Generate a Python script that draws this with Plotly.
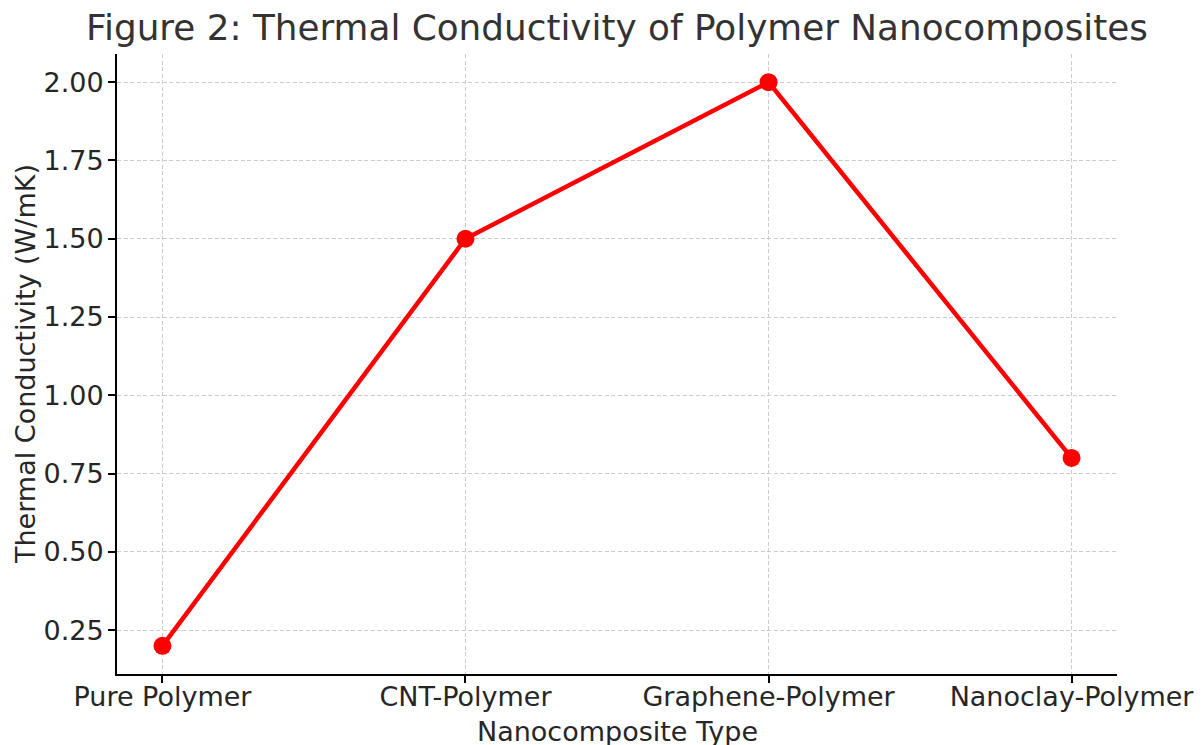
import plotly.graph_objects as go

categories = ["Pure Polymer", "CNT-Polymer", "Graphene-Polymer", "Nanoclay-Polymer"]
conductivity = [0.2, 1.5, 2.0, 0.8]
y_ticks = [0.25, 0.50, 0.75, 1.00, 1.25, 1.50, 1.75, 2.00]
y_tick_labels = ["0.25", "0.50", "0.75", "1.00", "1.25", "1.50", "1.75", "2.00"]
x_title = "Nanocomposite Type"
y_title = "Thermal Conductivity (W/mK)"
chart_title = "Figure 2: Thermal Conductivity of Polymer Nanocomposites"

x_pos = list(range(len(categories)))

FONT = "DejaVu Sans"
TXT = "#262626"
# the page body adds an 8px margin, so the figure is 8px smaller
W, H = 1194, 737
ML, MR, MT, MB = 109, 85, 46, 71
PW, PH = W - ML - MR, H - MT - MB

fig = go.Figure()
fig.add_trace(go.Scatter(
    x=x_pos, y=conductivity,
    mode="lines+markers",
    line=dict(color="#ff0000", width=4.5),
    marker=dict(color="#ff0000", size=18, line=dict(width=0)),
    showlegend=False,
    cliponaxis=False,
))

fig.update_layout(
    width=W, height=H,
    paper_bgcolor="white", plot_bgcolor="white",
    margin=dict(l=ML, r=MR, t=MT, b=MB, autoexpand=False),
    font=dict(family=FONT, color=TXT, size=25),
    title=dict(
        text=chart_title,
        font=dict(family=FONT, size=35.8, color="#333333"),
        x=(ML + PW / 2) / W, xanchor="center",
        y=1 - 19 / H, yanchor="middle", yref="container",
    ),
)

axis_common = dict(
    showline=True, linecolor="#000000", linewidth=2,
    ticks="outside", ticklen=7, tickwidth=1.5, tickcolor="#000000",
    showgrid=True, gridcolor="#cccccc", gridwidth=1, griddash="4px,2.5px",
    zeroline=False, mirror=False, automargin=False,
    tickfont=dict(family=FONT, size=27, color=TXT),
)

fig.update_xaxes(
    **axis_common,
    range=[-0.15, 3.15],
    tickvals=x_pos, ticktext=categories,
    ticklabelstandoff=-9,
)
fig.update_yaxes(
    **axis_common,
    range=[0.11, 2.09],
    tickvals=y_ticks, ticktext=y_tick_labels,
    ticklabelstandoff=-1,
)

fig.add_annotation(
    text=x_title, xref="paper", yref="paper",
    x=0.5, y=(666 - 723) / PH, xanchor="center", yanchor="middle",
    showarrow=False, font=dict(family=FONT, size=27, color=TXT),
)
fig.add_annotation(
    text=y_title, xref="paper", yref="paper",
    x=(17 - ML) / PW, y=0.5, xanchor="center", yanchor="middle",
    textangle=-90, showarrow=False, font=dict(family=FONT, size=27, color=TXT),
)

fig.write_html("out.html")
